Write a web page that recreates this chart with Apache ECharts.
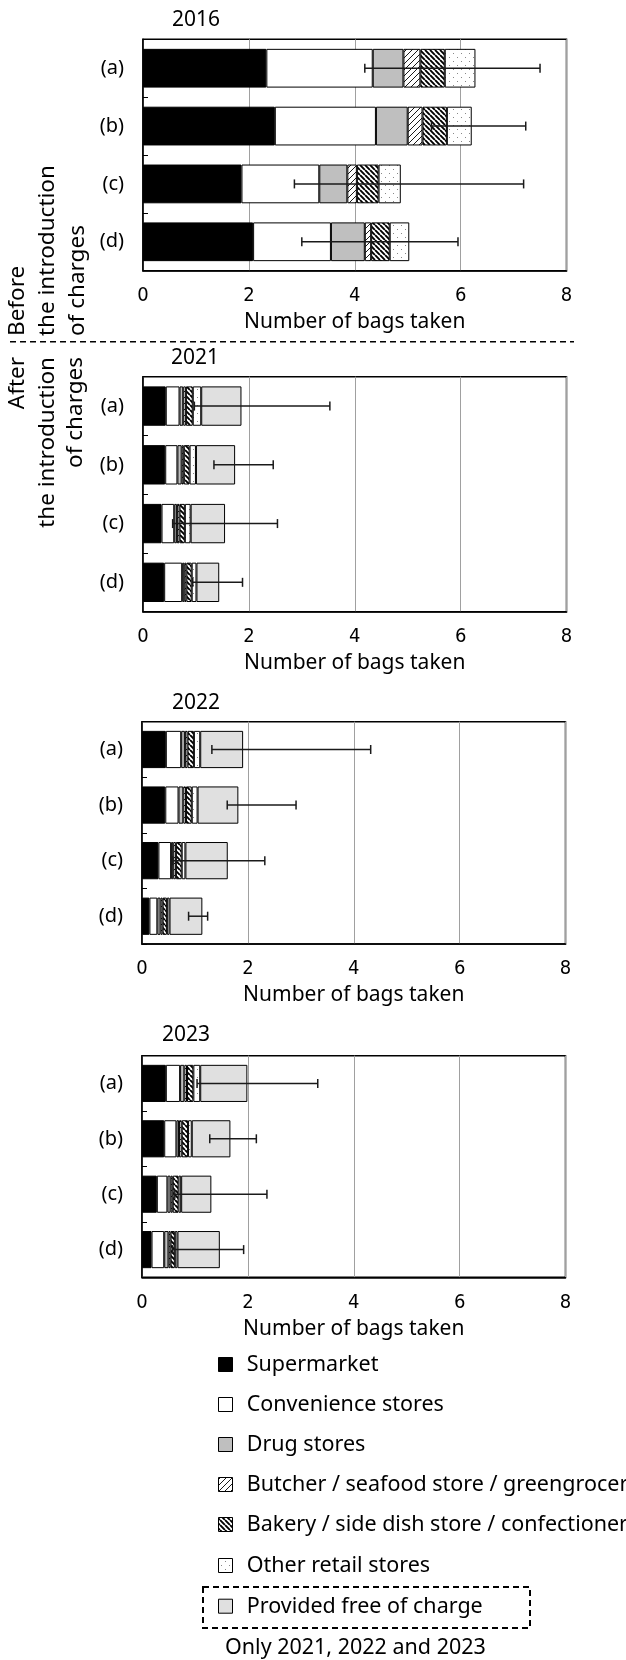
<!DOCTYPE html>
<html>
<head>
<meta charset="utf-8">
<script src="https://cdn.jsdelivr.net/npm/echarts@6/dist/echarts.min.js"></script>
<style>
html,body{margin:0;padding:0;background:#fff;}
#chart{width:626px;height:1660px;}
</style>
</head>
<body>
<div id="chart"></div>
<script>
// ---------------- DATA ----------------
const categories = ['(a)', '(b)', '(c)', '(d)'];
const years = ['2016', '2021', '2022', '2023'];
const storeNames = [
  'Supermarket',
  'Convenience stores',
  'Drug stores',
  'Butcher / seafood store / greengrocer',
  'Bakery / side dish store / confectioner',
  'Other retail stores',
  'Provided free of charge'
];
const xTicks = [0, 2, 4, 6, 8];
const xAxisName = 'Number of bags taken';

// each row: one store type, values for (a)..(d)
const values2016 = [
  [2.33, 2.49, 1.86, 2.08],
  [2.01, 1.91, 1.47, 1.47],
  [0.58, 0.60, 0.53, 0.64],
  [0.32, 0.28, 0.18, 0.12],
  [0.46, 0.46, 0.41, 0.35],
  [0.58, 0.47, 0.42, 0.37]
];
const values2021 = [
  [0.43, 0.42, 0.35, 0.40],
  [0.26, 0.23, 0.24, 0.34],
  [0.07, 0.08, 0.05, 0.04],
  [0.05, 0.04, 0.05, 0.04],
  [0.13, 0.11, 0.10, 0.10],
  [0.16, 0.12, 0.11, 0.09],
  [0.76, 0.74, 0.65, 0.43]
];
const values2022 = [
  [0.45, 0.44, 0.31, 0.14],
  [0.29, 0.25, 0.24, 0.15],
  [0.07, 0.09, 0.04, 0.06],
  [0.05, 0.05, 0.05, 0.04],
  [0.12, 0.11, 0.11, 0.08],
  [0.12, 0.11, 0.07, 0.05],
  [0.81, 0.77, 0.80, 0.62]
];
const values2023 = [
  [0.45, 0.42, 0.28, 0.18],
  [0.27, 0.23, 0.20, 0.24],
  [0.08, 0.05, 0.06, 0.08],
  [0.05, 0.05, 0.04, 0.04],
  [0.12, 0.12, 0.11, 0.08],
  [0.13, 0.07, 0.05, 0.05],
  [0.89, 0.73, 0.57, 0.80]
];
// error bars: low and high ends for (a)..(d)
const errLow2016 = [4.19, 5.45, 2.86, 3.00];
const errHigh2016 = [7.50, 7.23, 7.19, 5.95];
const errLow2021 = [0.97, 1.34, 0.56, 0.94];
const errHigh2021 = [3.53, 2.46, 2.54, 1.88];
const errLow2022 = [1.32, 1.61, 0.58, 0.88];
const errHigh2022 = [4.32, 2.91, 2.32, 1.24];
const errLow2023 = [1.04, 1.28, 0.62, 0.58];
const errHigh2023 = [3.32, 2.16, 2.36, 1.92];

const sideLabelsBefore = ['Before', 'the introduction', 'of charges'];
const sideLabelsAfter = ['After', 'the introduction', 'of charges'];
const legendNote = 'Only 2021, 2022 and 2023';

// ---------------- STYLES ----------------
function makePattern(size, draw) {
  const c = document.createElement('canvas');
  c.width = size; c.height = size;
  const ctx = c.getContext('2d');
  ctx.fillStyle = '#ffffff';
  ctx.fillRect(0, 0, size, size);
  draw(ctx, size);
  return c;
}
const butcherCanvas = makePattern(6, function (ctx, s) {
  ctx.strokeStyle = '#000'; ctx.lineWidth = 0.9;
  ctx.beginPath();
  for (let k = -1; k <= 1; k++) { ctx.moveTo(k * s, s); ctx.lineTo(k * s + s, 0); }
  ctx.stroke();
});
const bakeryCanvas = makePattern(5, function (ctx, s) {
  ctx.strokeStyle = '#000'; ctx.lineWidth = 1.9;
  ctx.beginPath();
  for (let k = -1; k <= 1; k++) { ctx.moveTo(k * s, 0); ctx.lineTo(k * s + s, s); }
  ctx.stroke();
});
const otherCanvas = makePattern(8, function (ctx, s) {
  ctx.fillStyle = '#888';
  ctx.fillRect(1, 1, 1, 1);
  ctx.fillRect(5, 5, 1, 1);
});
const fills = [
  '#000000',
  '#ffffff',
  '#bfbfbf',
  { image: butcherCanvas, repeat: 'repeat' },
  { image: bakeryCanvas, repeat: 'repeat' },
  { image: otherCanvas, repeat: 'repeat' },
  '#e0e0e0'
];

const FONT = '"Noto Sans", "Open Sans", sans-serif';
const NUMFONT = '"Liberation Sans Narrow", "DejaVu Sans Condensed", "Noto Sans", sans-serif';

// ---------------- LAYOUT ----------------
const grids = [
  { left: 143, top: 39.3, width: 423.5, height: 231.4 },
  { left: 143, top: 376.7, width: 423.5, height: 235 },
  { left: 142, top: 721.7, width: 423.5, height: 222.3 },
  { left: 142, top: 1055.7, width: 423.5, height: 221.6 }
];
const titleY = [20, 358, 702.7, 1035];
const titleX = [196, 195, 196, 186];

const panelValues = [values2016, values2021, values2022, values2023];
const panelLow = [errLow2016, errLow2021, errLow2022, errLow2023];
const panelHigh = [errHigh2016, errHigh2021, errHigh2022, errHigh2023];

const series = [];
panelValues.forEach(function (vals, p) {
  vals.forEach(function (row, s) {
    series.push({
      type: 'bar',
      name: storeNames[s],
      xAxisIndex: p,
      yAxisIndex: p,
      stack: 'panel' + p,
      data: row,
      barCategoryGap: '33%',
      itemStyle: { color: fills[s], borderColor: '#000', borderWidth: 1 },
      emphasis: { disabled: true },
      silent: true,
      z: 2
    });
  });
  const errData = categories.map(function (c, i) { return [panelLow[p][i], panelHigh[p][i], i]; });
  series.push({
    type: 'custom',
    xAxisIndex: p,
    yAxisIndex: p,
    data: errData,
    encode: { x: [0, 1], y: 2 },
    z: 10,
    silent: true,
    renderItem: function (params, api) {
      const cat = api.value(2);
      const a = api.coord([api.value(0), cat]);
      const b = api.coord([api.value(1), cat]);
      const h = 4.5;
      const st = { stroke: '#1a1a1a', lineWidth: 1.5 };
      return {
        type: 'group',
        children: [
          { type: 'line', shape: { x1: a[0], y1: a[1], x2: b[0], y2: b[1] }, style: st },
          { type: 'line', shape: { x1: a[0], y1: a[1] - h, x2: a[0], y2: a[1] + h }, style: st },
          { type: 'line', shape: { x1: b[0], y1: b[1] - h, x2: b[0], y2: b[1] + h }, style: st }
        ]
      };
    }
  });
});

const xAxes = grids.map(function (g, i) {
  return {
    gridIndex: i, type: 'value', min: xTicks[0], max: xTicks[xTicks.length - 1], interval: 2,
    axisLine: { show: true, lineStyle: { color: '#000', width: 1.5 } },
    axisTick: { show: false },
    splitLine: { show: true, lineStyle: { color: '#a0a0a0', width: 1 } },
    axisLabel: { fontSize: 20, color: '#000', margin: 15, fontFamily: NUMFONT },
    name: xAxisName, nameLocation: 'middle', nameGap: 41,
    nameTextStyle: { fontSize: 21, color: '#000', fontFamily: FONT }
  };
});
const yAxes = grids.map(function (g, i) {
  return {
    gridIndex: i, type: 'category', data: categories, inverse: true,
    axisLine: { show: true, lineStyle: { color: '#000', width: 1.5 } },
    axisTick: { show: true, inside: true, length: 5, lineStyle: { color: '#000', width: 1 } },
    axisLabel: { fontSize: 20, color: '#000', margin: 19, fontFamily: FONT },
    splitLine: { show: false }
  };
});

const graphics = [];
years.forEach(function (y, i) {
  graphics.push({ type: 'text', x: titleX[i], y: titleY[i], silent: true,
    style: { text: y, font: '21px ' + FONT, fill: '#000', textAlign: 'center', textVerticalAlign: 'middle' } });
});
// side labels (rotated, reading bottom to top)
const sideX = [17.5, 47.5, 78];
sideLabelsBefore.forEach(function (t, i) {
  graphics.push({ type: 'text', x: sideX[i], y: 336, rotation: Math.PI / 2, silent: true,
    style: { text: t, font: '22.5px ' + FONT, fill: '#000', textAlign: 'left', textVerticalAlign: 'middle' } });
});
const sideXAfter = [17.5, 47.5, 76];
sideLabelsAfter.forEach(function (t, i) {
  graphics.push({ type: 'text', x: sideXAfter[i], y: 357, rotation: Math.PI / 2, silent: true,
    style: { text: t, font: '22.5px ' + FONT, fill: '#000', textAlign: 'right', textVerticalAlign: 'middle' } });
});
// dashed separator
graphics.push({ type: 'line', silent: true, shape: { x1: 10, y1: 341.7, x2: 574, y2: 341.7 },
  style: { stroke: '#000', lineWidth: 1.5, lineDash: [6, 4] } });
// legend
const legendY = [1365, 1405, 1445, 1485, 1525, 1566, 1606.7];
storeNames.forEach(function (n, i) {
  graphics.push({ type: 'rect', silent: true, shape: { x: 218.5, y: legendY[i] - 7.5, width: 14, height: 14 },
    style: { fill: fills[i], stroke: '#000', lineWidth: 1 } });
  graphics.push({ type: 'text', x: 246.7, y: legendY[i], silent: true,
    style: { text: n, font: '21.5px ' + FONT, fill: '#000', textAlign: 'left', textVerticalAlign: 'middle' } });
});
graphics.push({ type: 'rect', silent: true, shape: { x: 203, y: 1587, width: 327, height: 41 },
  style: { fill: 'none', stroke: '#000', lineWidth: 2, lineDash: [6, 4] } });
graphics.push({ type: 'text', x: 225, y: 1648, silent: true,
  style: { text: legendNote, font: '21.5px ' + FONT, fill: '#000', textAlign: 'left', textVerticalAlign: 'middle' } });

const option = {
  animation: false,
  backgroundColor: '#fff',
  grid: grids.map(function (g) {
    return Object.assign({ show: true, borderColor: '#000', borderWidth: 1.5, backgroundColor: 'transparent', containLabel: false }, g);
  }),
  xAxis: xAxes,
  yAxis: yAxes,
  series: series,
  graphic: graphics
};
const chart = echarts.init(document.getElementById('chart'), null, { renderer: 'canvas' });
chart.setOption(option);
</script>
</body>
</html>
